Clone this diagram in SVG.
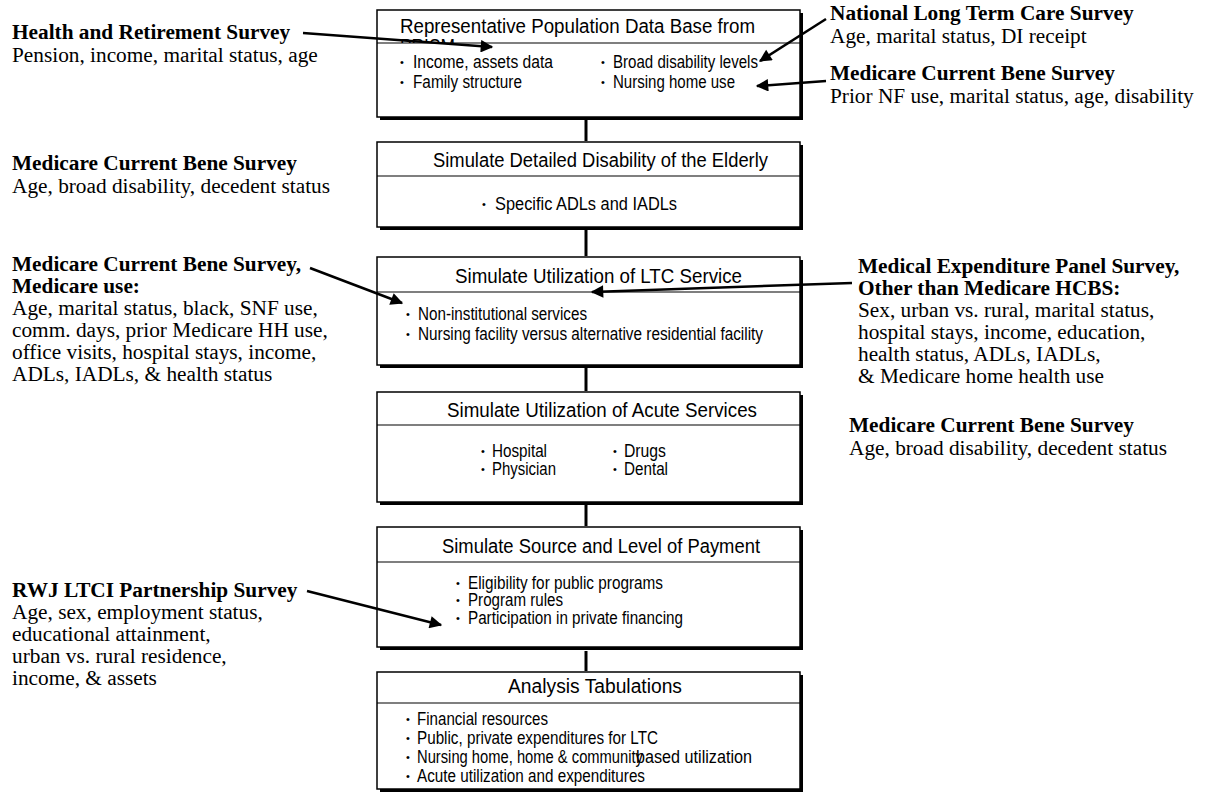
<svg xmlns="http://www.w3.org/2000/svg" width="1209" height="792" viewBox="0 0 1209 792">
<defs>
<style>
.shadow{fill:#000}
.box{fill:#fff;stroke:#000;stroke-width:1.5}
.div{stroke:#000;stroke-width:1.2}
.title{font-family:"Liberation Sans",Arial,sans-serif;font-size:20px;fill:#000}
.item{font-family:"Liberation Sans",Arial,sans-serif;font-size:17.5px;fill:#000}
.dot{font-family:"Liberation Sans",Arial,sans-serif;font-size:11px;fill:#000}
.lb{font-family:"Liberation Serif","Times New Roman",serif;font-size:21.3px;font-weight:bold;fill:#000}
.lt{font-family:"Liberation Serif","Times New Roman",serif;font-size:21.3px;fill:#000}
.conn{stroke:#000;stroke-width:3;fill:none}
.arr{stroke:#000;stroke-width:2.5;fill:none}
</style>
<marker id="ah" viewBox="0 0 10 10" refX="9" refY="5" markerWidth="6" markerHeight="5" orient="auto" markerUnits="strokeWidth">
<path d="M0,0 L10,5 L0,10 z" fill="#000"/>
</marker>
<clipPath id="clipPrism"><rect x="390" y="36" width="120" height="7"/></clipPath>
</defs>

<g id="node-population">
<rect class="shadow" x="380" y="13" width="423" height="107"/>
<rect class="box" x="377" y="10" width="423" height="107"/>
<text class="title" x="400" y="33" textLength="355" lengthAdjust="spacingAndGlyphs">Representative Population Data Base from</text>
<text class="title" x="400" y="53" clip-path="url(#clipPrism)" textLength="55" lengthAdjust="spacingAndGlyphs">PRISM</text>
<line class="div" x1="377" y1="43" x2="800" y2="43"/>
<text class="dot" x="400" y="66">•</text>
<text class="item" x="413" y="68" textLength="140" lengthAdjust="spacingAndGlyphs">Income, assets data</text>
<text class="dot" x="400" y="86">•</text>
<text class="item" x="413" y="88" textLength="109" lengthAdjust="spacingAndGlyphs">Family structure</text>
<text class="dot" x="601" y="66">•</text>
<text class="item" x="613" y="68" textLength="145" lengthAdjust="spacingAndGlyphs">Broad disability levels</text>
<text class="dot" x="601" y="86">•</text>
<text class="item" x="613" y="88" textLength="122" lengthAdjust="spacingAndGlyphs">Nursing home use</text>
</g>

<g id="node-disability">
<rect class="shadow" x="380" y="145" width="423" height="85"/>
<rect class="box" x="377" y="142" width="423" height="85"/>
<line class="div" x1="377" y1="176" x2="800" y2="176"/>
<text class="title" x="433" y="167" textLength="335" lengthAdjust="spacingAndGlyphs">Simulate Detailed Disability of the Elderly</text>
<text class="dot" x="482" y="208">•</text>
<text class="item" x="495" y="210" textLength="182" lengthAdjust="spacingAndGlyphs">Specific ADLs and IADLs</text>
</g>

<g id="node-ltc">
<rect class="shadow" x="380" y="260" width="423" height="108"/>
<rect class="box" x="377" y="257" width="423" height="108"/>
<line class="div" x1="377" y1="292" x2="800" y2="292"/>
<text class="title" x="455" y="283" textLength="287" lengthAdjust="spacingAndGlyphs">Simulate Utilization of LTC Service</text>
<text class="dot" x="406" y="318">•</text>
<text class="item" x="418" y="320" textLength="169" lengthAdjust="spacingAndGlyphs">Non-institutional services</text>
<text class="dot" x="406" y="338">•</text>
<text class="item" x="418" y="340" textLength="345" lengthAdjust="spacingAndGlyphs">Nursing facility versus alternative residential facility</text>
</g>

<g id="node-acute">
<rect class="shadow" x="380" y="395" width="423" height="110"/>
<rect class="box" x="377" y="392" width="423" height="110"/>
<line class="div" x1="377" y1="425" x2="800" y2="425"/>
<text class="title" x="447" y="417" textLength="310" lengthAdjust="spacingAndGlyphs">Simulate Utilization of Acute Services</text>
<text class="dot" x="481" y="455">•</text>
<text class="item" x="492" y="457" textLength="55" lengthAdjust="spacingAndGlyphs">Hospital</text>
<text class="dot" x="481" y="473">•</text>
<text class="item" x="492" y="475" textLength="64" lengthAdjust="spacingAndGlyphs">Physician</text>
<text class="dot" x="613" y="455">•</text>
<text class="item" x="624" y="457" textLength="42" lengthAdjust="spacingAndGlyphs">Drugs</text>
<text class="dot" x="613" y="473">•</text>
<text class="item" x="624" y="475" textLength="44" lengthAdjust="spacingAndGlyphs">Dental</text>
</g>

<g id="node-payment">
<rect class="shadow" x="380" y="530" width="423" height="120"/>
<rect class="box" x="377" y="527" width="423" height="120"/>
<line class="div" x1="377" y1="562" x2="800" y2="562"/>
<text class="title" x="442" y="553" textLength="318" lengthAdjust="spacingAndGlyphs">Simulate Source and Level of Payment</text>
<text class="dot" x="456" y="587">•</text>
<text class="item" x="468" y="589" textLength="195" lengthAdjust="spacingAndGlyphs">Eligibility for public programs</text>
<text class="dot" x="456" y="604">•</text>
<text class="item" x="468" y="606" textLength="95" lengthAdjust="spacingAndGlyphs">Program rules</text>
<text class="dot" x="456" y="622">•</text>
<text class="item" x="468" y="624" textLength="215" lengthAdjust="spacingAndGlyphs">Participation in private financing</text>
</g>

<g id="node-analysis">
<rect class="shadow" x="380" y="675" width="423" height="117"/>
<rect class="box" x="377" y="672" width="423" height="117"/>
<line class="div" x1="377" y1="703" x2="800" y2="703"/>
<text class="title" x="508" y="693" textLength="174" lengthAdjust="spacingAndGlyphs">Analysis Tabulations</text>
<text class="dot" x="406" y="723">•</text>
<text class="item" x="417" y="725" textLength="131" lengthAdjust="spacingAndGlyphs">Financial resources</text>
<text class="dot" x="406" y="742">•</text>
<text class="item" x="417" y="744" textLength="241" lengthAdjust="spacingAndGlyphs">Public, private expenditures for LTC</text>
<text class="dot" x="406" y="761">•</text>
<text class="item" x="417" y="763" textLength="226" lengthAdjust="spacingAndGlyphs">Nursing home, home &amp; community</text>
<text class="item" x="636" y="763" textLength="116" lengthAdjust="spacingAndGlyphs">based utilization</text>
<text class="dot" x="406" y="780">•</text>
<text class="item" x="417" y="782" textLength="228" lengthAdjust="spacingAndGlyphs">Acute utilization and expenditures</text>
</g>

<g id="label-hrs">
<text class="lb" x="12" y="39">Health and Retirement Survey</text>
<text class="lt" x="12" y="62">Pension, income, marital status, age</text>
</g>
<g id="label-mcbs-1">
<text class="lb" x="12" y="170">Medicare Current Bene Survey</text>
<text class="lt" x="12" y="193">Age, broad disability, decedent status</text>
</g>
<g id="label-mcbs-2">
<text class="lb" x="12" y="271">Medicare Current Bene Survey,</text>
<text class="lb" x="12" y="293">Medicare use:</text>
<text class="lt" x="12" y="315">Age, marital status, black, SNF use,</text>
<text class="lt" x="12" y="337">comm. days, prior Medicare HH use,</text>
<text class="lt" x="12" y="359">office visits, hospital stays, income,</text>
<text class="lt" x="12" y="381">ADLs, IADLs, &amp; health status</text>
</g>
<g id="label-rwj">
<text class="lb" x="12" y="597">RWJ LTCI Partnership Survey</text>
<text class="lt" x="12" y="619">Age, sex, employment status,</text>
<text class="lt" x="12" y="641">educational attainment,</text>
<text class="lt" x="12" y="663">urban vs. rural residence,</text>
<text class="lt" x="12" y="685">income, &amp; assets</text>
</g>
<g id="label-nltcs">
<text class="lb" x="830" y="20">National Long Term Care Survey</text>
<text class="lt" x="830" y="43">Age, marital status, DI receipt</text>
</g>
<g id="label-mcbs-3">
<text class="lb" x="830" y="80">Medicare Current Bene Survey</text>
<text class="lt" x="830" y="103">Prior NF use, marital status, age, disability</text>
</g>
<g id="label-meps">
<text class="lb" x="858" y="273">Medical Expenditure Panel Survey,</text>
<text class="lb" x="858" y="295">Other than Medicare HCBS:</text>
<text class="lt" x="858" y="317">Sex, urban vs. rural, marital status,</text>
<text class="lt" x="858" y="339">hospital stays, income, education,</text>
<text class="lt" x="858" y="361">health status, ADLs, IADLs,</text>
<text class="lt" x="858" y="383">&amp; Medicare home health use</text>
</g>
<g id="label-mcbs-4">
<text class="lb" x="849" y="432">Medicare Current Bene Survey</text>
<text class="lt" x="849" y="455">Age, broad disability, decedent status</text>
</g>

<g id="connectors">
<line class="conn" x1="586" y1="118" x2="586" y2="141"/>
<line class="conn" x1="586" y1="228" x2="586" y2="256"/>
<line class="conn" x1="586" y1="366" x2="586" y2="391"/>
<line class="conn" x1="586" y1="503" x2="586" y2="526"/>
<line class="conn" x1="586" y1="651" x2="586" y2="671"/>
<line class="arr" marker-end="url(#ah)" x1="303" y1="33" x2="492" y2="47"/>
<line class="arr" marker-end="url(#ah)" x1="826" y1="19" x2="760" y2="61"/>
<line class="arr" marker-end="url(#ah)" x1="826" y1="81" x2="757" y2="86"/>
<line class="arr" marker-end="url(#ah)" x1="310" y1="268" x2="402" y2="303"/>
<line class="arr" marker-end="url(#ah)" x1="852" y1="283" x2="592" y2="292"/>
<line class="arr" marker-end="url(#ah)" x1="307" y1="591" x2="441" y2="625"/>
</g>
</svg>
